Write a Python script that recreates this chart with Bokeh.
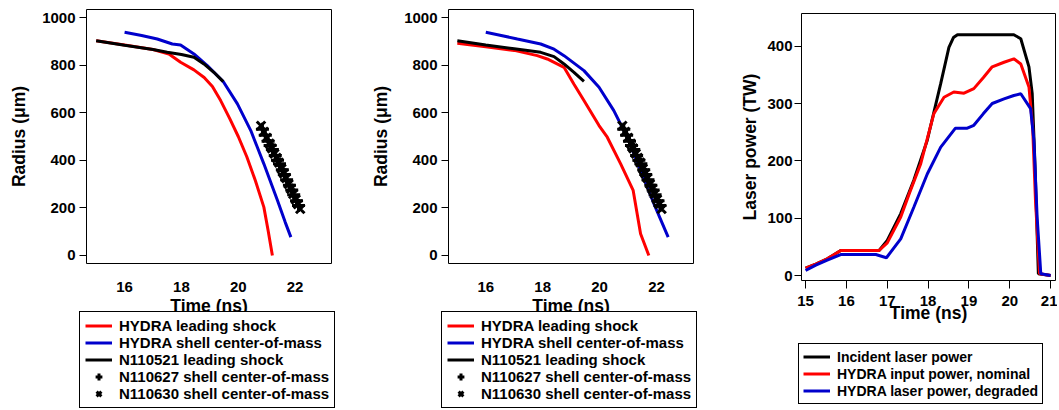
from bokeh.plotting import figure
from bokeh.models import Legend, LegendItem, FixedTicker, Range1d, LinearAxis, Grid
from bokeh.embed import file_html
from bokeh.resources import INLINE

FONT = "Liberation Sans"

# ---------------- data: panel 1 ----------------
p1_hydra_shock_t = [15.0, 16.0, 17.0, 17.56, 17.97, 18.44, 18.8, 19.09, 19.38, 19.7, 20.0, 20.3, 20.6, 20.9, 21.05, 21.2]
p1_hydra_shock_r = [903, 885, 866, 847, 812, 780, 748, 710, 651, 575, 500, 415, 315, 203, 105, 0]
p1_hydra_shell_t = [16.0, 16.6, 17.15, 17.68, 17.97, 18.44, 18.91, 19.47, 19.97, 20.44, 20.9, 21.38, 21.65, 21.85]
p1_hydra_shell_r = [938, 925, 910, 889, 885, 847, 798, 731, 637, 525, 385, 231, 140, 77]
p1_n110521_t = [15.0, 16.0, 17.0, 17.5, 18.0, 18.44, 18.79, 19.14, 19.47]
p1_n110521_r = [903, 884, 866, 854, 845, 833, 805, 770, 731]

# ---------------- data: panel 2 ----------------
p2_hydra_shock_t = [15.0, 16.0, 17.0, 17.81, 18.16, 18.75, 19.1, 19.45, 19.98, 20.27, 20.74, 21.18, 21.44, 21.73]
p2_hydra_shock_r = [892, 877, 862, 840, 826, 791, 720, 651, 546, 497, 385, 273, 91, 0]
p2_hydra_shell_t = [16.0, 16.5, 17.11, 17.93, 18.4, 18.75, 19.45, 19.98, 20.5, 20.97, 21.44, 21.91, 22.41]
p2_hydra_shell_r = [938, 926, 910, 889, 867, 840, 777, 707, 609, 497, 357, 217, 77]
p2_n110521_t = [15.0, 16.0, 17.0, 17.93, 18.4, 18.75, 19.1, 19.45]
p2_n110521_r = [903, 885, 869, 854, 836, 805, 770, 732]

# ---------------- data: shell center-of-mass measurements (both panels) ----------------
n110627_t = [20.85, 20.95, 21.05, 21.12, 21.2, 21.3, 21.38, 21.45, 21.55, 21.62, 21.7, 21.8, 21.88, 21.95, 22.05, 22.12]
n110627_r = [530, 505, 480, 462, 445, 420, 400, 385, 360, 340, 318, 295, 275, 255, 230, 210]
n110630_t = [20.8, 20.9, 21.0, 21.1, 21.18, 21.27, 21.35, 21.43, 21.52, 21.6, 21.68, 21.77, 21.85, 21.93, 22.02, 22.1, 22.18]
n110630_r = [545, 520, 495, 470, 450, 428, 410, 390, 365, 345, 325, 300, 280, 258, 235, 215, 195]

# ---------------- data: panel 3 (laser power) ----------------
incident_t = [15.0, 15.25, 15.53, 15.86, 16.3, 16.8, 17.0, 17.33, 17.65, 17.98, 18.31, 18.51, 18.62, 18.72, 19.5, 20.1, 20.27, 20.47, 20.55, 20.62, 20.7, 21.0]
incident_p = [12.8, 20, 29, 43.6, 43.6, 43.6, 61, 108, 166, 236, 335, 398, 415, 420, 420, 420, 413, 364, 317, 189, 3, 0]
nominal_t = [15.0, 15.25, 15.53, 15.86, 16.3, 16.8, 17.0, 17.33, 17.55, 17.82, 18.14, 18.39, 18.63, 18.88, 19.12, 19.35, 19.57, 19.86, 20.1, 20.27, 20.47, 20.56, 20.63, 20.73, 21.0]
nominal_p = [12.8, 20, 29, 43.6, 43.6, 43.6, 57, 102, 145, 195, 282, 311, 320, 318, 326, 345, 364, 372, 378, 369, 329, 259, 131, 3, 0]
degraded_t = [15.0, 15.25, 15.53, 15.86, 16.3, 16.72, 16.98, 17.33, 17.65, 17.98, 18.31, 18.67, 18.96, 19.12, 19.35, 19.57, 19.86, 20.1, 20.27, 20.51, 20.59, 20.67, 20.76, 21.0]
degraded_p = [8.7, 18, 27, 36.6, 36.6, 36.6, 31, 64, 119, 177, 224, 257, 257, 262, 282, 300, 308, 314, 317, 291, 236, 102, 3, 0]

radius_ticks = [0, 200, 400, 600, 800, 1000]
radius_time_ticks = [16, 18, 20, 22]
power_ticks = [0, 100, 200, 300, 400]
power_time_ticks = [15, 16, 17, 18, 19, 20, 21]

RED = "#ff0000"
BLUE = "#0000cc"
BLACK = "#000000"

# ---------------- layout (canvas pixels) ----------------
W, H = 1057, 409
# name: (xlo, xhi, ylo, yhi, px_left, px_right, px_top, px_bottom)
PANELS = {
    "1": (14.66, 23.28, -34, 1034, 86, 331, 9, 263),
    "2": (14.69, 23.30, -34, 1034, 448, 693, 9, 263),
    "3": (14.90, 21.12, -8.7, 457, 801, 1055, 13, 280),
}


def x_map(lo, hi, a, b):
    k = (hi - lo) / (b - a)
    s = lo - a * k
    return Range1d(s, s + W * k)


def y_map(lo, hi, top, bottom):
    b = H - bottom
    t = H - top
    k = (hi - lo) / (t - b)
    s = lo - b * k
    return Range1d(s, s + H * k)


p = figure(width=W, height=H, x_range=Range1d(0, W), y_range=Range1d(0, H),
           output_backend="svg", toolbar_location=None,
           x_axis_location=None, y_axis_location=None,
           min_border=0, min_border_left=0, min_border_right=0, min_border_top=0, min_border_bottom=0)
p.outline_line_color = None
for g in p.select(type=Grid):
    g.visible = False
p.extra_x_ranges = {"x" + k: x_map(v[0], v[1], v[4], v[5]) for k, v in PANELS.items()}
p.extra_y_ranges = {"y" + k: y_map(v[2], v[3], v[6], v[7]) for k, v in PANELS.items()}


def axes(k, xticks, yticks, xlabel, ylabel, x_tick_out, x_std, x_lab_std, y_tick_out, y_std, y_lab_std):
    xlo, xhi, ylo, yhi = PANELS[k][:4]
    xr, yr = "x" + k, "y" + k
    p.quad(left=[xlo], right=[xhi], bottom=[ylo], top=[yhi], fill_color=None,
           line_color="black", line_width=1, x_range_name=xr, y_range_name=yr)
    xa = LinearAxis(x_range_name=xr, y_range_name=yr, fixed_location=ylo, bounds=(xlo, xhi),
                    ticker=FixedTicker(ticks=xticks), axis_label=xlabel)
    ya = LinearAxis(x_range_name=xr, y_range_name=yr, fixed_location=xlo, bounds=(ylo, yhi),
                    ticker=FixedTicker(ticks=yticks), axis_label=ylabel)
    for ax in (xa, ya):
        ax.axis_line_color = None
        ax.major_tick_line_color = "black"
        ax.major_tick_line_width = 1
        ax.minor_tick_line_color = None
        ax.major_tick_in = 0
        ax.major_label_text_font = FONT
        ax.major_label_text_font_style = "bold"
        ax.major_label_text_font_size = "15px"
        ax.major_label_text_color = "black"
        ax.axis_label_text_font = FONT
        ax.axis_label_text_font_style = "bold"
        ax.axis_label_text_font_size = "17.5px"
        ax.axis_label_text_color = "black"
    xa.major_tick_out = x_tick_out
    xa.major_label_standoff = x_std
    xa.axis_label_standoff = x_lab_std
    ya.major_tick_out = y_tick_out
    ya.major_label_standoff = y_std
    ya.axis_label_standoff = y_lab_std
    p.add_layout(xa, "below")
    p.add_layout(ya, "left")


def make_legend(items, font_size, pad, loc):
    lg = Legend(items=items, location=loc, margin=0)
    lg.label_text_font = FONT
    lg.label_text_font_style = "bold"
    lg.label_text_font_size = font_size
    lg.label_text_color = "black"
    lg.glyph_width = 27
    lg.glyph_height = 17
    lg.label_height = 17
    lg.label_standoff = 7
    lg.padding = pad
    lg.spacing = 0
    lg.border_line_color = "black"
    lg.border_line_width = 1
    lg.border_line_alpha = 1
    lg.background_fill_color = "white"
    lg.background_fill_alpha = 1
    return lg


def radius_panel(k, shock_t, shock_r, shell_t, shell_r, exp_t, exp_r, legend_x):
    axes(k, radius_time_ticks, radius_ticks, "Time (ns)", "Radius (\u03bcm)", 0, 18, 1, 7, 4, 10)
    kw = dict(x_range_name="x" + k, y_range_name="y" + k)
    r1 = p.line(shock_t, shock_r, line_color=RED, line_width=3, **kw)
    r2 = p.line(shell_t, shell_r, line_color=BLUE, line_width=3, **kw)
    r3 = p.line(exp_t, exp_r, line_color=BLACK, line_width=3, **kw)
    r4 = p.scatter(n110627_t, n110627_r, marker="cross", size=13, line_color=BLACK, line_width=3, **kw)
    r5 = p.scatter(n110630_t, n110630_r, marker="x", size=12, line_color=BLACK, line_width=3, **kw)
    lg = make_legend([
        LegendItem(label="HYDRA leading shock", renderers=[r1]),
        LegendItem(label="HYDRA shell center-of-mass", renderers=[r2]),
        LegendItem(label="N110521 leading shock", renderers=[r3]),
        LegendItem(label="N110627 shell center-of-mass", renderers=[r4]),
        LegendItem(label="N110630 shell center-of-mass", renderers=[r5]),
    ], "15px", 5, (legend_x, 1))
    p.add_layout(lg, "center")


radius_panel("1", p1_hydra_shock_t, p1_hydra_shock_r, p1_hydra_shell_t, p1_hydra_shell_r,
             p1_n110521_t, p1_n110521_r, 79)
radius_panel("2", p2_hydra_shock_t, p2_hydra_shock_r, p2_hydra_shell_t, p2_hydra_shell_r,
             p2_n110521_t, p2_n110521_r, 441)

axes("3", power_time_ticks, power_ticks, "Time (ns)", "Laser power (TW)", 8, 7, -6, 7, 2, 4)
kw3 = dict(x_range_name="x3", y_range_name="y3")
q1 = p.line(incident_t, incident_p, line_color=BLACK, line_width=3, **kw3)
q2 = p.line(nominal_t, nominal_p, line_color=RED, line_width=3, **kw3)
q3 = p.line(degraded_t, degraded_p, line_color=BLUE, line_width=3, **kw3)
lg3 = make_legend([
    LegendItem(label="Incident laser power", renderers=[q1]),
    LegendItem(label="HYDRA input power, nominal", renderers=[q2]),
    LegendItem(label="HYDRA laser power, degraded", renderers=[q3]),
], "14px", 4, (798, 5))
p.add_layout(lg3, "center")

open("out.html", "w").write(file_html(p, INLINE))
